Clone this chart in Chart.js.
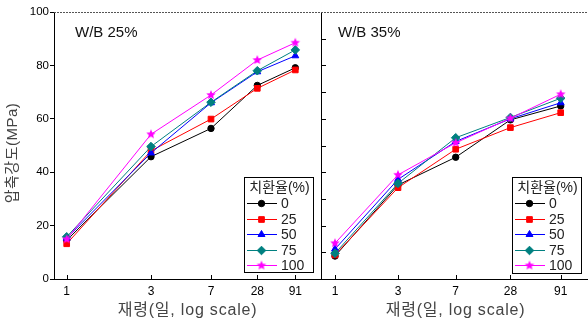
<!DOCTYPE html>
<html>
<head>
<meta charset="utf-8">
<script src="https://cdn.jsdelivr.net/npm/chart.js@4.4.0/dist/chart.umd.min.js"></script>
<style>
html,body{margin:0;padding:0;background:#fff;overflow:hidden;width:588px;height:325px;}
#wrap{position:relative;width:588px;height:325px;overflow:hidden;background:#fff;}
.pane{position:absolute;top:0;}
canvas{display:block;}
</style>
</head>
<body>
<div id="wrap">
  <div class="pane" style="left:0;width:330px;height:325px"><canvas id="c1" width="330" height="325"></canvas></div>
  <div class="pane" style="left:300px;width:300px;height:325px"><canvas id="c2" width="300" height="325"></canvas></div>
</div>
<script>
// ---------------- data ----------------
const ageLabels = ['1', '3', '7', '28', '91'];           // 재령 (days)
// position of each age along the original's irregular "log scale" axis (axis units)
const agePosLeft  = [12.7, 97, 157, 203.3, 241.3];
const agePosRight = [14, 77, 134.7, 189.4, 239.7];

const seriesNames = ['0', '25', '50', '75', '100'];     // 치환율(%)

// W/B 25%
const wb25_r0   = [14.5, 45.8, 56.4, 72.5, 79.1];
const wb25_r25  = [13.2, 48.0, 59.9, 71.4, 78.3];
const wb25_r50  = [15.3, 47.2, 66.0, 77.6, 83.6];
const wb25_r75  = [15.8, 49.6, 66.2, 78.0, 85.8];
const wb25_r100 = [14.9, 54.2, 68.9, 82.0, 88.5];

// W/B 35%
const wb35_r0   = [8.6, 35.2, 45.6, 59.6, 64.8];
const wb35_r25  = [9.0, 34.2, 48.6, 56.7, 62.3];
const wb35_r50  = [11.2, 37.3, 51.5, 60.0, 66.0];
const wb35_r75  = [9.6, 35.8, 52.9, 60.5, 67.7];
const wb35_r100 = [13.4, 39.0, 51.0, 60.2, 69.2];

const yTicks = [0, 20, 40, 60, 80, 100];

const panelTitles = ['W/B 25%', 'W/B 35%'];
const xTitle = '재령(일, log scale)';
const yTitle = '압축강도(MPa)';
const legendTitle = '치환율(%)';

// ---------------- styles ----------------
const FONT = "'Liberation Sans', Arial, 'Noto Sans CJK KR', sans-serif";
const seriesColors = ['#000000', '#ff0000', '#0000ff', '#008080', '#ff00ff'];

function makeStar(color, r) {
  const s = Math.ceil(r * 2 + 2);
  const c = document.createElement('canvas');
  c.width = s; c.height = s;
  const g = c.getContext('2d');
  g.fillStyle = color;
  g.beginPath();
  for (let i = 0; i < 10; i++) {
    const rad = (i % 2) ? r * 0.45 : r;
    const a = -Math.PI / 2 + i * Math.PI / 5;
    g.lineTo(s / 2 + rad * Math.cos(a), s / 2 + rad * Math.sin(a));
  }
  g.closePath();
  g.fill();
  return c;
}
const starImg = makeStar('#ff00ff', 5);
const markerStyles = ['circle', 'rect', 'triangle', 'rectRot', starImg];
const markerRadius = [3.2, 4, 4, 4.3, 5];

function buildDatasets(pos, seriesList) {
  return seriesList.map((vals, i) => ({
    label: seriesNames[i],
    data: vals.map((v, k) => ({ x: pos[k], y: v })),
    borderColor: seriesColors[i],
    backgroundColor: seriesColors[i],
    pointBackgroundColor: seriesColors[i],
    pointBorderColor: seriesColors[i],
    pointBorderWidth: 1,
    pointStyle: markerStyles[i],
    pointRadius: markerRadius[i],
    borderWidth: 1,
    tension: 0,
    order: seriesList.length - i
  }));
}

function drawMarker(ctx, style, radius, x, y, color) {
  ctx.save();
  ctx.fillStyle = color; ctx.strokeStyle = color; ctx.lineWidth = 1;
  if (Chart.helpers && Chart.helpers.drawPoint) {
    Chart.helpers.drawPoint(ctx, { pointStyle: style, radius: radius, rotation: 0, borderWidth: 1 }, x, y);
  } else {
    ctx.beginPath(); ctx.arc(x, y, radius, 0, Math.PI * 2); ctx.fill();
  }
  ctx.restore();
}

function decorPlugin(cfg) {
  return {
    id: 'decor',
    afterDraw(chart) {
      const { ctx, chartArea: a, scales } = chart;
      const x = scales.x, y = scales.y;
      ctx.save();
      // top dashed frame line
      ctx.strokeStyle = '#555';
      ctx.lineWidth = 1;
      ctx.setLineDash([2, 1]);
      ctx.beginPath();
      ctx.moveTo(a.left, Math.round(a.top) + 0.5);
      ctx.lineTo(a.right, Math.round(a.top) + 0.5);
      ctx.stroke();
      ctx.setLineDash([]);
      // inward x ticks
      ctx.strokeStyle = '#000';
      x.ticks.forEach(t => {
        const px = Math.round(x.getPixelForValue(t.value)) + 0.5;
        ctx.beginPath();
        ctx.moveTo(px, a.bottom);
        ctx.lineTo(px, a.bottom - 4);
        ctx.stroke();
      });
      // inward minor y ticks (shared divider)
      if (cfg.innerYTicks) {
        for (let v = 10; v < 100; v += 10) {
          const py = Math.round(y.getPixelForValue(v)) + 0.5;
          ctx.beginPath();
          ctx.moveTo(a.left, py);
          ctx.lineTo(a.left + 5, py);
          ctx.stroke();
        }
      }
      // panel label
      ctx.fillStyle = '#111';
      ctx.font = '15px ' + FONT;
      ctx.textAlign = 'left';
      ctx.textBaseline = 'alphabetic';
      ctx.fillText(cfg.panelTitle, cfg.panelX, 37);
      // x title
      ctx.fillStyle = '#444';
      ctx.font = '16px ' + FONT;
      ctx.letterSpacing = '0.8px';
      ctx.textAlign = 'center';
      ctx.textBaseline = 'middle';
      ctx.fillText(xTitle, (a.left + a.right) / 2 + cfg.xTitleShift, 311);
      // y title
      if (cfg.yTitle) {
        ctx.save();
        ctx.translate(13, 153);
        ctx.rotate(-Math.PI / 2);
        ctx.font = '15px ' + FONT;
        ctx.letterSpacing = '0.5px';
        ctx.fillStyle = '#444';
        ctx.textAlign = 'center';
        ctx.textBaseline = 'middle';
        ctx.fillText(yTitle, 0, 0);
        ctx.restore();
      }
      ctx.letterSpacing = '0px';
      // legend
      const b = cfg.legendBox;
      ctx.fillStyle = '#fff';
      ctx.fillRect(b.x, b.y, b.w, b.h);
      ctx.strokeStyle = '#000';
      ctx.lineWidth = 1;
      ctx.strokeRect(b.x + 0.5, b.y + 0.5, b.w, b.h);
      ctx.fillStyle = '#222';
      ctx.font = '14px ' + FONT;
      ctx.textAlign = 'center';
      ctx.textBaseline = 'middle';
      ctx.fillText(legendTitle, b.x + b.w / 2 + 1, b.y + 11);
      chart.data.datasets.forEach((ds, i) => {
        const ry = Math.round(b.y + 26 + i * 15.5) + 0.5;
        ctx.strokeStyle = ds.borderColor;
        ctx.lineWidth = 1;
        ctx.beginPath();
        ctx.moveTo(b.x + 3, ry);
        ctx.lineTo(b.x + 33, ry);
        ctx.stroke();
        drawMarker(ctx, ds.pointStyle, ds.pointRadius, b.x + 17.5, ry, ds.borderColor);
        ctx.fillStyle = '#222';
        ctx.font = '14px ' + FONT;
        ctx.textAlign = 'left';
        ctx.textBaseline = 'middle';
        ctx.fillText(ds.label, b.x + 37, ry + 1);
      });
      ctx.restore();
    }
  };
}

function makeChart(canvasId, pos, seriesList, opts) {
  return new Chart(document.getElementById(canvasId), {
    type: 'line',
    data: { datasets: buildDatasets(pos, seriesList) },
    options: {
      responsive: false,
      animation: false,
      events: [],
      layout: { padding: { top: 12, right: opts.padRight, left: 0, bottom: 0 } },
      plugins: { legend: { display: false }, tooltip: { enabled: false }, title: { display: false } },
      scales: {
        x: {
          type: 'linear',
          min: 0,
          max: opts.xMax,
          afterBuildTicks: s => { s.ticks = pos.map(v => ({ value: v })); },
          afterFit: s => { s.height = 46; },
          ticks: {
            autoSkip: false, maxRotation: 0, padding: 5, color: '#000',
            font: { size: 12, family: FONT },
            callback: (v, i) => ageLabels[i]
          },
          grid: { display: false, drawTicks: false, tickLength: 0 },
          border: { display: true, color: '#000', width: 1 }
        },
        y: {
          min: 0,
          max: 100,
          afterBuildTicks: s => { s.ticks = yTicks.map(v => ({ value: v })); },
          afterFit: s => { s.width = opts.yWidth; },
          ticks: {
            display: opts.yLabels, padding: 1, color: '#000',
            font: { size: 11.5, family: FONT }
          },
          grid: { display: opts.yLabels, drawOnChartArea: false, drawTicks: true, tickLength: 4, color: '#000' },
          border: { display: true, color: '#000', width: 1 }
        }
      }
    },
    plugins: [decorPlugin(opts.decor)]
  });
}

makeChart('c1', agePosLeft, [wb25_r0, wb25_r25, wb25_r50, wb25_r75, wb25_r100], {
  xMax: 267, padRight: 9, yWidth: 54, yLabels: true,
  decor: { panelTitle: panelTitles[0], panelX: 75, xTitleShift: 0, yTitle: true, innerYTicks: false,
           legendBox: { x: 244, y: 177, w: 69, h: 95 } }
});
makeChart('c2', agePosRight, [wb35_r0, wb35_r25, wb35_r50, wb35_r75, wb35_r100], {
  xMax: 268, padRight: 11, yWidth: 21, yLabels: false,
  decor: { panelTitle: panelTitles[1], panelX: 38, xTitleShift: 0.5, yTitle: false, innerYTicks: true,
           legendBox: { x: 212, y: 177, w: 69, h: 96 } }
});
</script>
</body>
</html>
